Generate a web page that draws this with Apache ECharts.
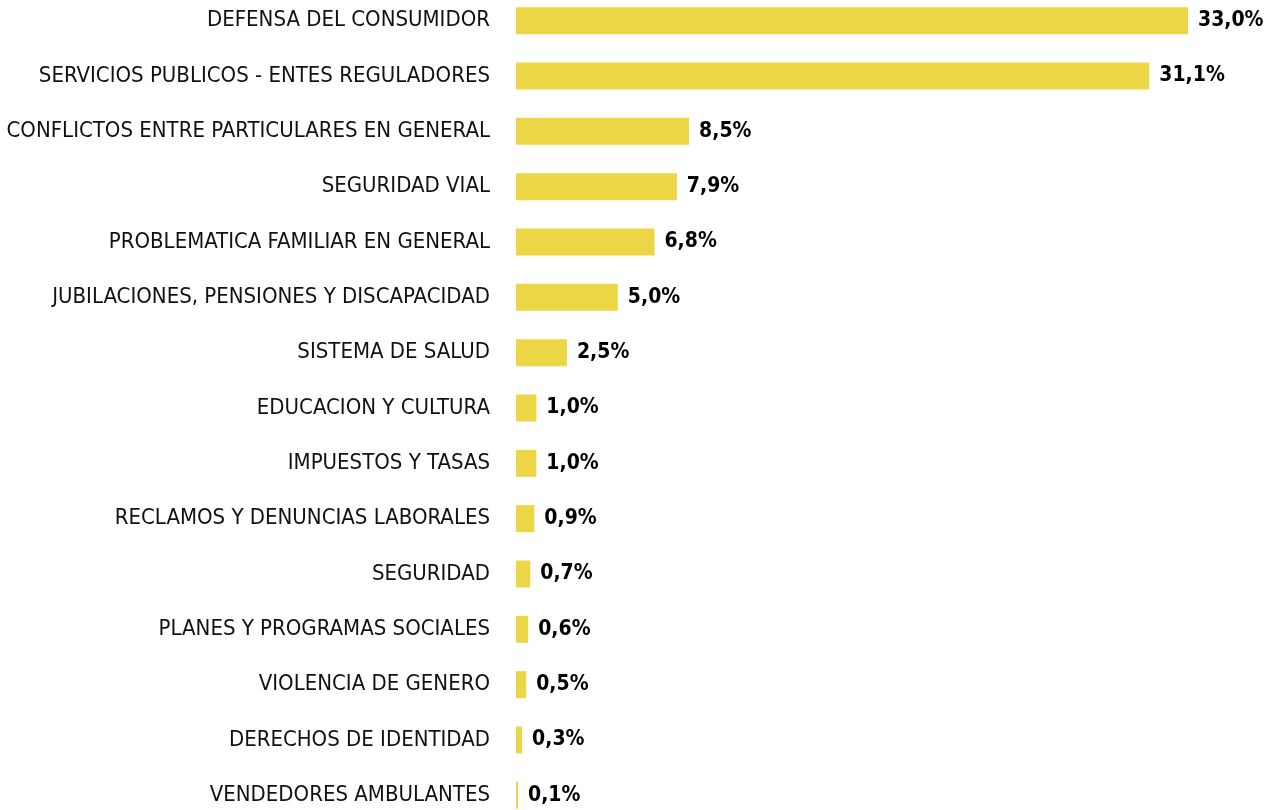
<!DOCTYPE html>
<html>
<head>
<meta charset="utf-8">
<script src="https://cdn.jsdelivr.net/npm/echarts@6/dist/echarts.min.js"></script>
<style>
  html, body { margin: 0; padding: 0; background: #fff; }
  #chart { width: 1274px; height: 810px; }
</style>
</head>
<body>
<div id="chart"></div>
<script>
// categories, top to bottom
const categories = [
    'DEFENSA DEL CONSUMIDOR',
    'SERVICIOS PUBLICOS - ENTES REGULADORES',
    'CONFLICTOS ENTRE PARTICULARES EN GENERAL',
    'SEGURIDAD VIAL',
    'PROBLEMATICA FAMILIAR EN GENERAL',
    'JUBILACIONES, PENSIONES Y DISCAPACIDAD',
    'SISTEMA DE SALUD',
    'EDUCACION Y CULTURA',
    'IMPUESTOS Y TASAS',
    'RECLAMOS Y DENUNCIAS LABORALES',
    'SEGURIDAD',
    'PLANES Y PROGRAMAS SOCIALES',
    'VIOLENCIA DE GENERO',
    'DERECHOS DE IDENTIDAD',
    'VENDEDORES AMBULANTES'
]
const shares = [33.0, 31.1, 8.5, 7.9, 6.8, 5.0, 2.5, 1.0, 1.0, 0.9, 0.7, 0.6, 0.5, 0.3, 0.1]

const font = '"DejaVu Sans Condensed", "Liberation Sans Narrow", sans-serif'

const chart = echarts.init(document.getElementById('chart'))
chart.setOption({
    animation: false,
    grid: {
        left: 516,
        right: 86,
        top: -7,
        height: 830,
        containLabel: false,
        outerBoundsMode: 'none'
    },
    xAxis: {
        type: 'value',
        min: 0,
        max: 33,
        show: false
    },
    yAxis: {
        type: 'category',
        inverse: true,
        data: categories,
        axisLine: { show: false },
        axisTick: { show: false },
        splitLine: { show: false },
        axisLabel: {
            margin: 26,
            color: '#111',
            fontSize: 22,
            fontFamily: font
        }
    },
    series: [{
        type: 'bar',
        data: shares,
        barWidth: 27,
        itemStyle: { color: '#ECD646' },
        label: {
            show: true,
            position: 'right',
            distance: 10,
            color: '#000',
            fontSize: 21,
            fontWeight: 'bold',
            fontFamily: font,
            formatter: p => p.value.toFixed(1).replace('.', ',') + '%'
        }
    }]
})
</script>
</body>
</html>
